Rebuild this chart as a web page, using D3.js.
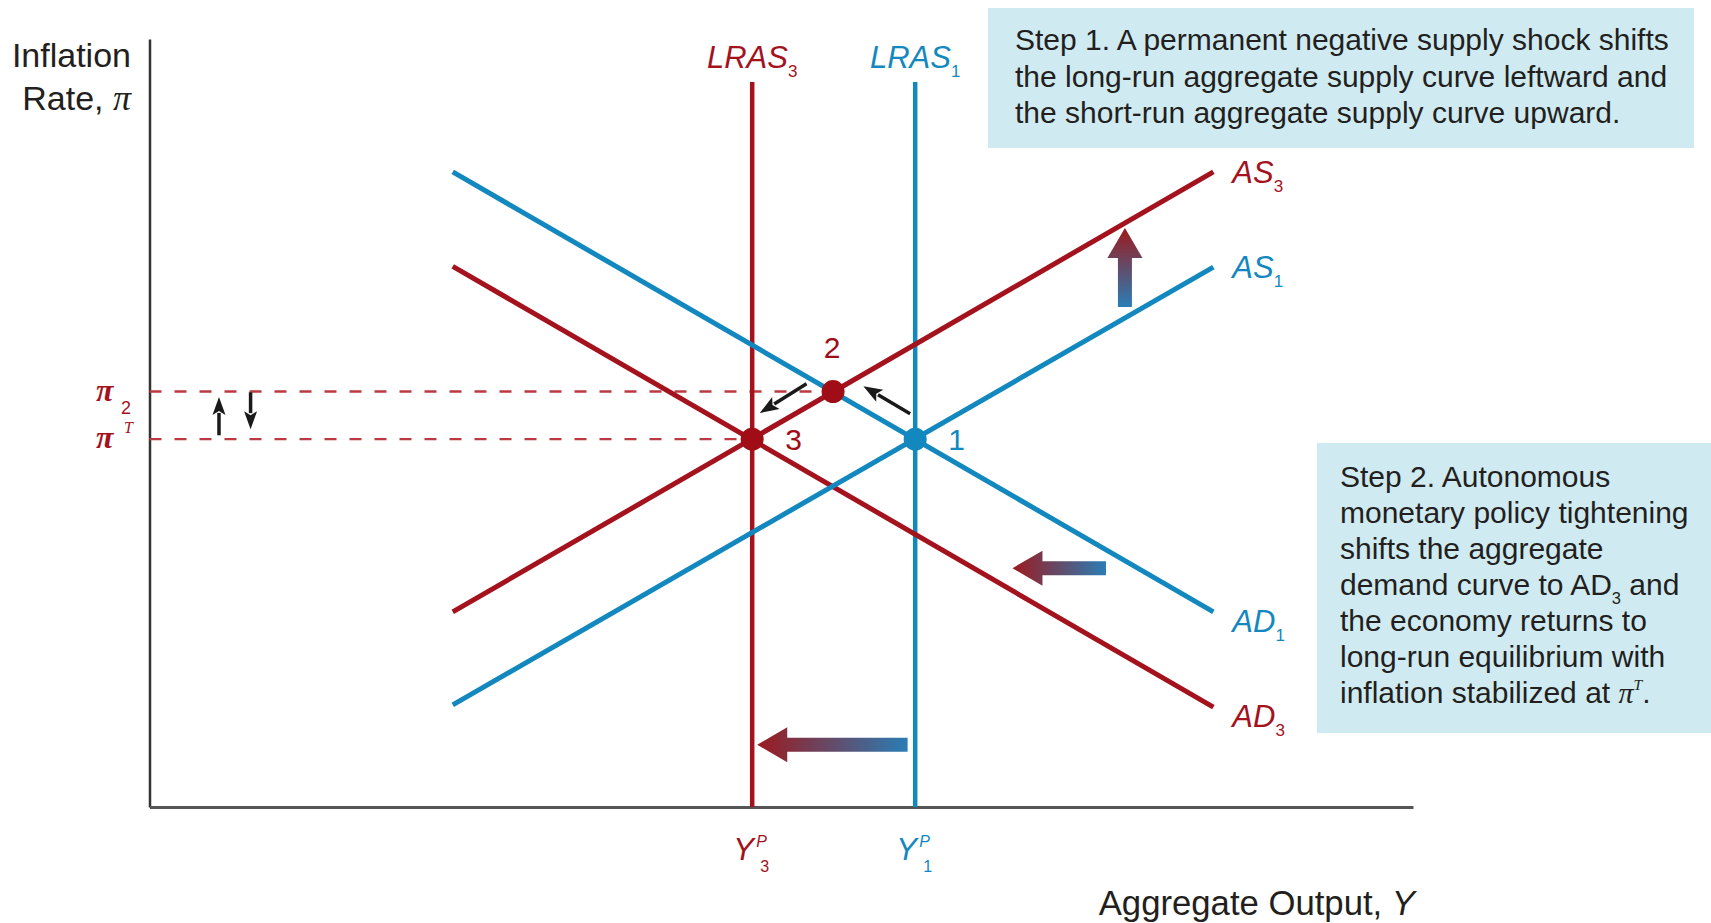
<!DOCTYPE html>
<html>
<head>
<meta charset="utf-8">
<script src="https://cdn.jsdelivr.net/npm/d3@7"></script>
<style>
body{margin:0;background:#fff;}
svg{display:block;}
</style>
</head>
<body>
<div id="chart"></div>
<script>
//Curve end points in chart units [output, inflation]
var ad1 = [[24, 82.7], [84.2, 25.4]];
var ad3 = [[24, 70.4], [84.2, 13.0]];
var as1 = [[24, 13.3], [84.2, 70.3]];
var as3 = [[24, 25.4], [84.2, 82.7]];

//Long-run supply: potential output levels
var lrasNames = ["3", "1"];
var lrasX = [47.7, 60.6];
var lrasTop = 94.4;

//Inflation levels pi2 and piT
var piNames = ["2", "T"];
var piLevels = [54.1, 47.9];

//Equilibrium points
var pointNames = ["1", "2", "3"];
var pointX = [60.6, 54.1, 47.7];
var pointY = [47.9, 54.1, 47.9];

//Shift arrows [tailX, tailY, tipX, tipY]
var shiftArrows = [[77.2, 65.1, 77.2, 75.4], [75.7, 31.1, 68.3, 31.1], [60.0, 8.1, 48.1, 8.1]];
var moveArrows = [[60.2, 51.2, 56.5, 54.8], [52.0, 55.1, 48.3, 51.3]];
var piArrows = [[5.5, 48.4, 5.5, 53.4], [8.0, 54.0, 8.0, 49.2]];

//Text of the two boxes
var step1Lines = [
    [["Step 1. A permanent negative supply shock shifts"]],
    [["the long-run aggregate supply curve leftward and"]],
    [["the short-run aggregate supply curve upward."]]
];
var step2Lines = [
    [["Step 2. Autonomous"]],
    [["monetary policy tightening"]],
    [["shifts the aggregate"]],
    [["demand curve to AD"], ["3", "sub"], [" and"]],
    [["the economy returns to"]],
    [["long-run equilibrium with"]],
    [["inflation stabilized at "], ["\u03c0", "pi"], ["T", "sup"], ["."]]
];

var sans = '"Liberation Sans", Arial, Helvetica, sans-serif';
var serif = '"Liberation Serif", "Times New Roman", serif';
var red = "#a3121d";
var blue = "#1288bf";
var ink = "#231f20";

var svg = d3.select("#chart").append("svg")
    .attr("width", 1711)
    .attr("height", 923)
    .attr("font-family", sans);

var x = d3.scaleLinear().domain([0, 100]).range([149.5, 1413]);
var y = d3.scaleLinear().domain([0, 100]).range([807, 39]);

//add text pieces with sub / superscripts
function addSegs(t, segs, size){
    var shift = 0;
    segs.forEach(function(s){
        var kind = s[1] || "";
        var target = kind == "sub" ? size * 0.3 : (kind == "sup" ? -size * 0.42 : 0);
        var sp = t.append("tspan").text(s[0]).attr("dy", target - shift);
        shift = target;
        if(kind == "sub") sp.attr("font-size", size * 0.55).attr("font-style", "normal");
        if(kind == "sup") sp.attr("font-size", size * 0.52);
        if(kind == "pi" || kind == "sup") sp.attr("font-family", serif).attr("font-style", "italic");
    });
}

//Boxes
svg.append("rect").attr("x", 988).attr("y", 8).attr("width", 706).attr("height", 140).attr("fill", "#cfebf1");
svg.append("rect").attr("x", 1317).attr("y", 443).attr("width", 394).attr("height", 290).attr("fill", "#cfebf1");

step1Lines.forEach(function(line, i){
    var t = svg.append("text").attr("x", 1015).attr("y", 50 + i * 36.5)
        .attr("font-size", 30).attr("fill", ink);
    addSegs(t, line, 30);
});
step2Lines.forEach(function(line, i){
    var t = svg.append("text").attr("x", 1340).attr("y", 487 + i * 36)
        .attr("font-size", 30).attr("fill", ink);
    addSegs(t, line, 30);
});

//Axes
var yAxis = d3.axisLeft(y).tickValues([]).tickSizeOuter(0);
var xAxis = d3.axisBottom(x).tickValues([]).tickSizeOuter(0);
svg.append("g").attr("transform", "translate(" + x(0) + ",0)").call(yAxis)
    .select(".domain").attr("stroke", "#333").attr("stroke-width", 2.5);
svg.append("g").attr("transform", "translate(0," + y(0) + ")").call(xAxis)
    .select(".domain").attr("stroke", "#555").attr("stroke-width", 3);

//Dashed inflation lines
var dashEnds = [pointX[1], pointX[2]];
piLevels.forEach(function(p, i){
    svg.append("line")
        .attr("x1", x(0)).attr("x2", x(dashEnds[i]))
        .attr("y1", y(p)).attr("y2", y(p))
        .attr("stroke", "#bb3a42").attr("stroke-width", 2.4)
        .attr("stroke-dasharray", "12,13");
});

//LRAS lines
lrasX.forEach(function(v, i){
    svg.append("line")
        .attr("x1", x(v)).attr("x2", x(v))
        .attr("y1", y(0)).attr("y2", y(lrasTop))
        .attr("stroke", i == 0 ? red : blue).attr("stroke-width", 4.5);
    var t = svg.append("text").attr("x", x(v)).attr("y", 68)
        .attr("text-anchor", "middle").attr("font-size", 31)
        .attr("font-style", "italic").attr("fill", i == 0 ? red : blue);
    addSegs(t, [["LRAS"], [lrasNames[i], "sub"]], 31);
});

//AD / AS curves
var curves = [
    {name: "AD", sub: "1", pts: ad1, color: blue, dy: 20},
    {name: "AD", sub: "3", pts: ad3, color: red, dy: 20},
    {name: "AS", sub: "1", pts: as1, color: blue, dy: 11},
    {name: "AS", sub: "3", pts: as3, color: red, dy: 11}
];
var lineGen = d3.line().x(function(d){ return x(d[0]); }).y(function(d){ return y(d[1]); });
curves.forEach(function(c){
    svg.append("path").attr("d", lineGen(c.pts))
        .attr("fill", "none").attr("stroke", c.color).attr("stroke-width", 5);
    var end = c.pts[1];
    var t = svg.append("text").attr("x", x(end[0]) + 19).attr("y", y(end[1]) + c.dy)
        .attr("font-size", 31).attr("font-style", "italic").attr("fill", c.color);
    addSegs(t, [[c.name], [c.sub, "sub"]], 31);
});

//Fat gradient arrows
var defs = svg.append("defs");
function fatArrow(a, i){
    var x0 = x(a[0]), y0 = y(a[1]), x1 = x(a[2]), y1 = y(a[3]);
    var len = Math.sqrt((x1 - x0) * (x1 - x0) + (y1 - y0) * (y1 - y0));
    var ux = (x1 - x0) / len, uy = (y1 - y0) / len;
    var nx = -uy, ny = ux;
    var sw = 7, hw = 17.5, hl = 30;
    var bx = x1 - ux * hl, by = y1 - uy * hl;
    var pts = [
        [x0 + nx * sw, y0 + ny * sw], [bx + nx * sw, by + ny * sw], [bx + nx * hw, by + ny * hw],
        [x1, y1],
        [bx - nx * hw, by - ny * hw], [bx - nx * sw, by - ny * sw], [x0 - nx * sw, y0 - ny * sw]
    ];
    var g = defs.append("linearGradient").attr("id", "grad" + i)
        .attr("gradientUnits", "userSpaceOnUse")
        .attr("x1", x0).attr("y1", y0).attr("x2", x1).attr("y2", y1);
    g.append("stop").attr("offset", "0%").attr("stop-color", "#2a7db5");
    g.append("stop").attr("offset", "100%").attr("stop-color", "#9c1a1e");
    svg.append("polygon").attr("points", pts.map(function(p){ return p.join(","); }).join(" "))
        .attr("fill", "url(#grad" + i + ")");
}
shiftArrows.forEach(fatArrow);

//Thin black arrows
function thinArrow(a, hl, hw, sw){
    var x0 = x(a[0]), y0 = y(a[1]), x1 = x(a[2]), y1 = y(a[3]);
    var len = Math.sqrt((x1 - x0) * (x1 - x0) + (y1 - y0) * (y1 - y0));
    var ux = (x1 - x0) / len, uy = (y1 - y0) / len;
    var nx = -uy, ny = ux;
    var bx = x1 - ux * hl, by = y1 - uy * hl;
    svg.append("line").attr("x1", x0).attr("y1", y0).attr("x2", bx + ux * 2).attr("y2", by + uy * 2)
        .attr("stroke", "#1a1a1a").attr("stroke-width", sw);
    var pts = [[x1, y1], [bx + nx * hw / 2, by + ny * hw / 2], [bx + ux * 4, by + uy * 4], [bx - nx * hw / 2, by - ny * hw / 2]];
    svg.append("polygon").attr("points", pts.map(function(p){ return p.join(","); }).join(" "))
        .attr("fill", "#1a1a1a");
}
moveArrows.forEach(function(a){ thinArrow(a, 19, 14, 3.5); });
piArrows.forEach(function(a){ thinArrow(a, 18, 13, 3.5); });

//Equilibrium points and numbers
pointNames.forEach(function(n, i){
    var c = n == "1" ? blue : "#a00d16";
    svg.append("circle").attr("cx", x(pointX[i])).attr("cy", y(pointY[i]))
        .attr("r", 11.5).attr("fill", c);
    var t = svg.append("text").attr("font-size", 30).attr("fill", c).text(n);
    if(n == "2"){
        t.attr("x", x(pointX[i]) - 1).attr("y", y(pointY[i]) - 34).attr("text-anchor", "middle");
    } else {
        t.attr("x", x(pointX[i]) + 33).attr("y", y(pointY[i]) + 11);
    }
});

//Pi labels at the vertical axis
piNames.forEach(function(n, i){
    var py = y(piLevels[i]);
    svg.append("text").attr("x", 96).attr("y", py + 9)
        .attr("font-family", serif).attr("font-style", "italic").attr("font-weight", "bold")
        .attr("font-size", 32).attr("fill", red).text("\u03c0");
    var s = svg.append("text").attr("fill", red).text(n);
    if(n == "T"){
        s.attr("x", 124).attr("y", py - 6).attr("font-size", 16)
            .attr("font-family", serif).attr("font-style", "italic");
    } else {
        s.attr("x", 121).attr("y", py + 22).attr("font-size", 18);
    }
});

//Potential output labels
lrasX.forEach(function(v, i){
    var c = i == 0 ? red : blue;
    svg.append("text").attr("x", x(v) - 19).attr("y", 860).attr("font-size", 31)
        .attr("font-style", "italic").attr("fill", c).text("Y");
    svg.append("text").attr("x", x(v) + 4).attr("y", 847).attr("font-size", 16)
        .attr("font-style", "italic").attr("fill", c).text("P");
    svg.append("text").attr("x", x(v) + 8).attr("y", 872).attr("font-size", 16)
        .attr("fill", c).text(lrasNames[i]);
});

//Axis titles
svg.append("text").attr("x", 131).attr("y", 67).attr("text-anchor", "end")
    .attr("font-size", 34).attr("fill", ink).text("Inflation");
var rt = svg.append("text").attr("x", 131).attr("y", 110).attr("text-anchor", "end")
    .attr("font-size", 34).attr("fill", ink);
rt.append("tspan").text("Rate, ");
rt.append("tspan").attr("font-family", serif).attr("font-style", "italic").attr("font-size", 36).text("\u03c0");

var xt = svg.append("text").attr("x", 1415).attr("y", 915).attr("text-anchor", "end")
    .attr("font-size", 34.7).attr("fill", ink);
xt.append("tspan").text("Aggregate Output, ");
xt.append("tspan").attr("font-style", "italic").text("Y");
</script>
</body>
</html>
